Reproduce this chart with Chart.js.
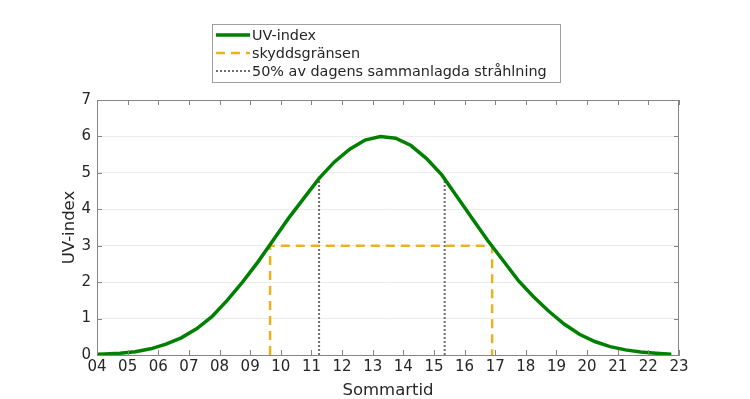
<!DOCTYPE html>
<html>
<head>
<meta charset="utf-8">
<script src="https://cdn.jsdelivr.net/npm/chart.js@4/dist/chart.umd.min.js"></script>
<style>
  html, body { margin: 0; padding: 0; background: #fff; }
  #wrap { width: 750px; height: 399px; position: relative; }
</style>
</head>
<body>
<div id="wrap"><canvas id="uvChart"></canvas></div>
<script>
// Data
const hours = [4.0, 4.25, 4.75, 5.25, 5.75, 6.25, 6.75, 7.25, 7.75, 8.25, 8.75, 9.25, 9.75,
  10.25, 10.75, 11.25, 11.75, 12.25, 12.75, 13.25, 13.75, 14.25, 14.75, 15.25, 15.75,
  16.25, 16.75, 17.25, 17.75, 18.25, 18.75, 19.25, 19.75, 20.25, 20.75, 21.25, 21.75, 22.25, 22.75];
const uvIndex = [0.02, 0.03, 0.05, 0.09, 0.17, 0.30, 0.47, 0.72, 1.05, 1.50, 2.00, 2.55, 3.15,
  3.75, 4.30, 4.85, 5.30, 5.65, 5.90, 6.00, 5.95, 5.75, 5.40, 4.95, 4.35,
  3.75, 3.15, 2.60, 2.05, 1.60, 1.20, 0.85, 0.57, 0.37, 0.23, 0.14, 0.08, 0.05, 0.02];

// skyddsgränsen (UV 3) box
const limitX = [9.65, 9.65, 16.9, 16.9];
const limitY = [0, 3, 3, 0];

// 50% of the day's accumulated radiation
const halfX = [11.25, 11.25, null, 15.35, 15.35];
const halfY = [0, 4.8, null, 0, 4.85];

const xTicks = ['04', '05', '06', '07', '08', '09', '10', '11', '12', '13', '14', '15', '16', '17', '18', '19', '20', '21', '22', '23'];

const legendLabels = ['UV-index', 'skyddsgränsen', '50% av dagens sammanlagda stråhlning'];

const green = '#008000';
const orange = '#EDB120';
const dotGrey = '#6e6e6e';
const axisGrey = '#858585';
const textCol = '#262626';
const font = 'DejaVu Sans';

const toPoints = (xs, ys) => xs.map((x, i) => x === null ? { x: null, y: null } : { x: x, y: ys[i] });

// box + inward ticks + legend
const matlabLook = {
    id: 'matlabLook',
    afterDraw(chart) {
        const ctx = chart.ctx;
        const a = chart.chartArea;
        const xs = chart.scales.x;
        const ys = chart.scales.y;
        ctx.save();
        ctx.strokeStyle = axisGrey;
        ctx.lineWidth = 1;
        ctx.strokeRect(a.left + 0.5, a.top + 0.5, a.right - a.left - 1, a.bottom - a.top);
        ctx.beginPath();
        for (let h = 4; h <= 23; h++) {
            const px = Math.round(xs.getPixelForValue(h)) + 0.5;
            ctx.moveTo(px, a.bottom); ctx.lineTo(px, a.bottom - 5);
            ctx.moveTo(px, a.top); ctx.lineTo(px, a.top + 5);
        }
        for (let v = 0; v <= 7; v++) {
            const py = Math.round(ys.getPixelForValue(v)) + 0.5;
            ctx.moveTo(a.left, py); ctx.lineTo(a.left + 5, py);
            ctx.moveTo(a.right, py); ctx.lineTo(a.right - 5, py);
        }
        ctx.stroke();

        // legend
        const lx = 212, ly = 24, lw = 348, lh = 58;
        ctx.fillStyle = '#fff';
        ctx.fillRect(lx, ly, lw, lh);
        ctx.strokeStyle = '#a0a0a0';
        ctx.strokeRect(lx + 0.5, ly + 0.5, lw, lh);
        const rows = [35, 53, 71];
        const styles = [
            { c: green, w: 3.5, d: [] },
            { c: orange, w: 2.5, d: [9, 6] },
            { c: dotGrey, w: 2, d: [2, 2] }
        ];
        ctx.font = '14.4px "' + font + '"';
        ctx.textBaseline = 'middle';
        legendLabels.forEach((lab, i) => {
            const s = styles[i];
            ctx.beginPath();
            ctx.strokeStyle = s.c;
            ctx.lineWidth = s.w;
            ctx.setLineDash(s.d);
            ctx.moveTo(216, rows[i]); ctx.lineTo(250, rows[i]);
            ctx.stroke();
            ctx.setLineDash([]);
            ctx.fillStyle = textCol;
            ctx.fillText(lab, 252, rows[i] + 1);
        });
        ctx.restore();
    }
};

new Chart(document.getElementById('uvChart'), {
    type: 'line',
    data: {
        datasets: [
            {
                label: legendLabels[0],
                data: toPoints(hours, uvIndex),
                borderColor: green,
                borderWidth: 3.5,
                pointRadius: 0,
                tension: 0,
                fill: false
            },
            {
                label: legendLabels[1],
                data: toPoints(limitX, limitY),
                borderColor: orange,
                borderWidth: 2.5,
                borderDash: [9, 6],
                pointRadius: 0,
                tension: 0,
                fill: false
            },
            {
                label: legendLabels[2],
                data: toPoints(halfX, halfY),
                borderColor: dotGrey,
                borderWidth: 2,
                borderDash: [2, 2],
                pointRadius: 0,
                tension: 0,
                spanGaps: false,
                fill: false
            }
        ]
    },
    options: {
        responsive: true,
        maintainAspectRatio: false,
        animation: false,
        layout: { padding: { top: 100, right: 71, left: 60, bottom: 0 } },
        plugins: {
            legend: { display: false },
            tooltip: { enabled: false }
        },
        scales: {
            x: {
                type: 'linear',
                min: 4,
                max: 23,
                afterFit: s => { s.height = 44; },
                afterBuildTicks: s => { s.ticks = xTicks.map((t, i) => ({ value: 4 + i })); },
                ticks: {
                    color: textCol,
                    font: { family: font, size: 15 },
                    padding: 3,
                    maxRotation: 0,
                    autoSkip: false,
                    callback: (v, i) => xTicks[i]
                },
                grid: { display: false, drawTicks: false },
                border: { color: axisGrey },
                title: {
                    display: true,
                    text: 'Sommartid',
                    color: textCol,
                    font: { family: font, size: 16.5 },
                    padding: { top: 0, bottom: -2 }
                }
            },
            y: {
                min: 0,
                max: 7,
                afterFit: s => { s.width = 37; },
                ticks: {
                    stepSize: 1,
                    color: textCol,
                    font: { family: font, size: 15 },
                    padding: 6
                },
                grid: { color: '#ebebeb', drawTicks: false },
                border: { color: axisGrey },
                title: {
                    display: true,
                    text: 'UV-index',
                    color: textCol,
                    font: { family: font, size: 16.5 },
                    padding: { top: 0, bottom: 0 }
                }
            }
        }
    },
    plugins: [matlabLook]
});
</script>
</body>
</html>
